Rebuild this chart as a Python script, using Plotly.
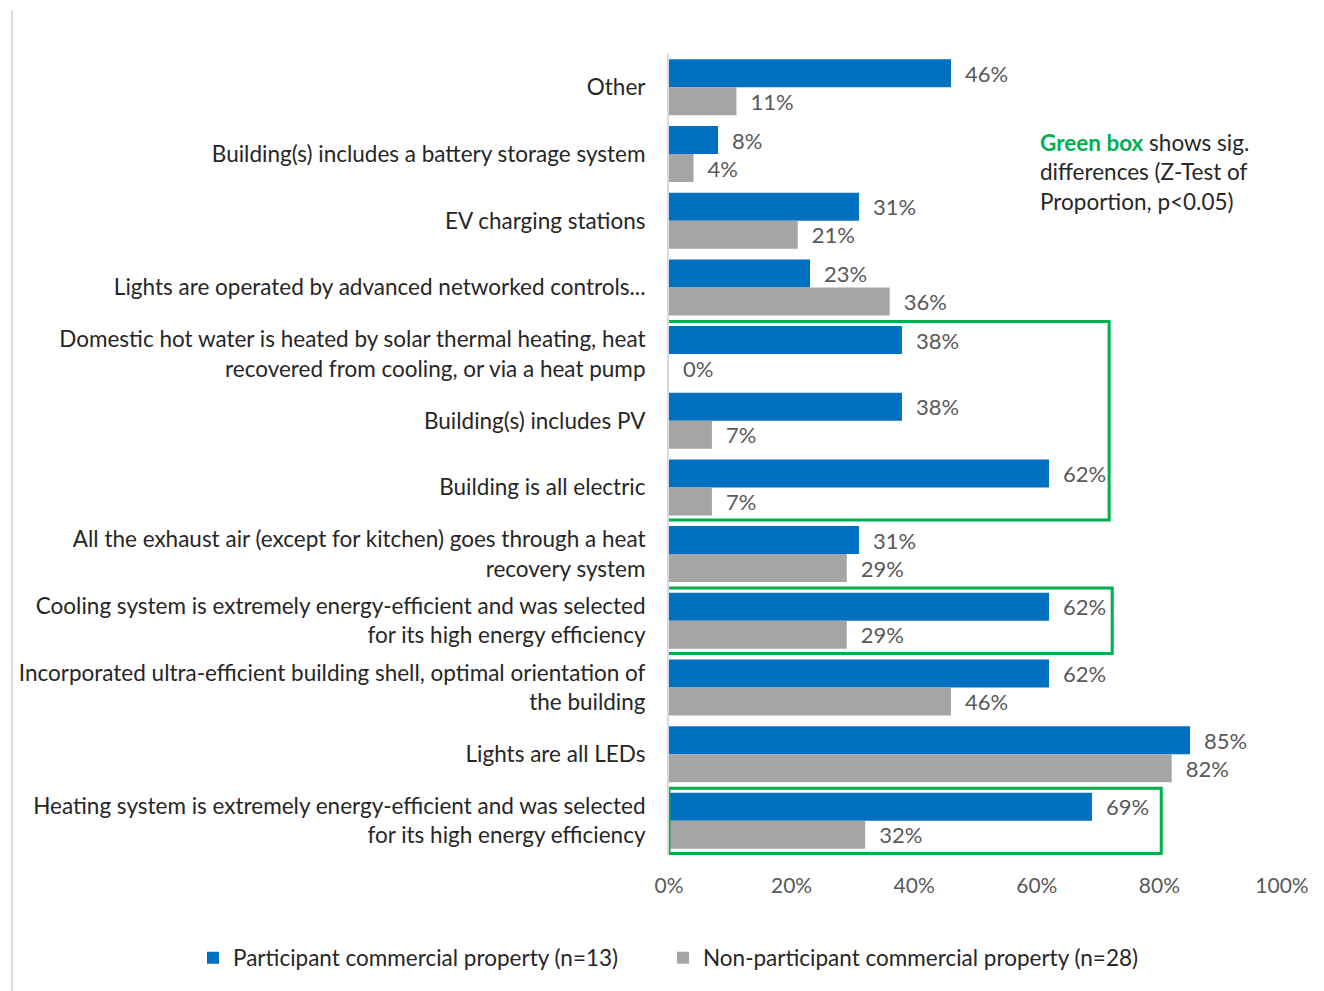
import plotly.graph_objects as go

# Survey items, listed top to bottom
categories = [
    "Other",
    "Building(s) includes a battery storage system",
    "EV charging stations",
    "Lights are operated by advanced networked controls...",
    "Domestic hot water is heated by solar thermal heating, heat<br>recovered from cooling, or via a heat pump",
    "Building(s) includes PV",
    "Building is all electric",
    "All the exhaust air (except for kitchen) goes through a heat<br>recovery system",
    "Cooling system is extremely energy-efficient and was selected<br>for its high energy efficiency",
    "Incorporated ultra-efficient building shell, optimal orientation of<br>the building",
    "Lights are all LEDs",
    "Heating system is extremely energy-efficient and was selected<br>for its high energy efficiency",
]

participant = [46, 8, 31, 23, 38, 38, 62, 31, 62, 62, 85, 69]
non_participant = [11, 4, 21, 36, 0, 7, 7, 29, 29, 46, 82, 32]

series_names = [
    "Participant commercial property (n=13)",
    "Non-participant commercial property (n=28)",
]

x_ticks = [0, 20, 40, 60, 80, 100]
x_tick_labels = ["0%", "20%", "40%", "60%", "80%", "100%"]

# Groups of items with significant differences:
# (first index, last index, left padding, right padding)
sig_groups = [(4, 6, 1.0, 9.8), (8, 8, 0.7, 10.3), (11, 11, 0.0, 11.3)]

FONT = "Lato, Calibri, Carlito, sans-serif"
BLUE = "#0070c0"
GRAY = "#a5a5a5"
GREEN = "#00b050"

L, R, T, B = 669, 42, 54, 136
PW, PH = 1324 - L - R, 991 - T - B


def px_x(px):
    return (px - L) / PW


def px_y(py):
    return (991 - B - py) / PH


fig = go.Figure()
for name, vals, color, leg in [
    (series_names[0], participant, BLUE, "legend"),
    (series_names[1], non_participant, GRAY, "legend2"),
]:
    fig.add_trace(go.Bar(
        y=categories,
        x=vals,
        name=name,
        orientation="h",
        marker=dict(color=color, line=dict(width=0)),
        text=[f"\u2002{v}%" for v in vals],
        textposition="outside",
        textfont=dict(family=FONT, size=22, color="#595959"),
        cliponaxis=False,
        hoverinfo="skip",
        legend=leg,
        showlegend=True,
    ))

shapes = []
for lo, hi, lpad, rpad in sig_groups:
    top = max(max(participant[lo:hi + 1]), max(non_participant[lo:hi + 1]))
    shapes.append(dict(
        type="rect", xref="x", yref="y",
        x0=-lpad, x1=top + rpad,
        y0=lo - 0.49, y1=hi + 0.49,
        line=dict(color=GREEN, width=3),
        fillcolor="rgba(0,0,0,0)",
        layer="above",
    ))

# thin border line at the far left of the slide area
shapes.append(dict(
    type="line", xref="paper", yref="paper",
    x0=px_x(12), x1=px_x(12), y0=px_y(10), y1=px_y(995),
    line=dict(color="#d0d0d0", width=1.5),
))

legend_common = dict(
    orientation="h",
    xanchor="left",
    yanchor="middle",
    y=px_y(958),
    font=dict(family=FONT, size=22.5, color="#262626"),
    itemwidth=30,
    bgcolor="rgba(0,0,0,0)",
)

fig.update_layout(
    width=1324,
    height=991,
    showlegend=True,
    barmode="group",
    bargap=0.16,
    bargroupgap=0.0,
    plot_bgcolor="white",
    paper_bgcolor="white",
    margin=dict(l=L, r=R, t=T, b=B, autoexpand=False),
    font=dict(family=FONT, size=22.5, color="#262626"),
    xaxis=dict(
        range=[0, 100],
        tickvals=x_ticks,
        ticktext=x_tick_labels,
        showgrid=False,
        zeroline=False,
        showline=False,
        tickfont=dict(family=FONT, size=21, color="#595959"),
        ticks="outside",
        ticklen=12,
        tickcolor="white",
    ),
    yaxis=dict(
        autorange="reversed",
        showgrid=False,
        showline=True,
        linecolor="#d9d9d9",
        linewidth=2,
        ticks="outside",
        ticklen=17,
        tickcolor="white",
        tickfont=dict(family=FONT, size=22.5, color="#262626"),
    ),
    legend=dict(x=px_x(193), **legend_common),
    legend2=dict(x=px_x(663), **legend_common),
    shapes=shapes,
    annotations=[dict(
        xref="paper", yref="paper",
        x=px_x(1038), y=px_y(172),
        xanchor="left", yanchor="middle",
        align="left",
        showarrow=False,
        text=(f"<span style='color:{GREEN}'><b>Green box</b></span> shows sig.<br>"
              "differences (Z-Test of<br>Proportion, p&lt;0.05)"),
        font=dict(family=FONT, size=22.5, color="#262626"),
    )],
)

fig.write_html("out.html")
